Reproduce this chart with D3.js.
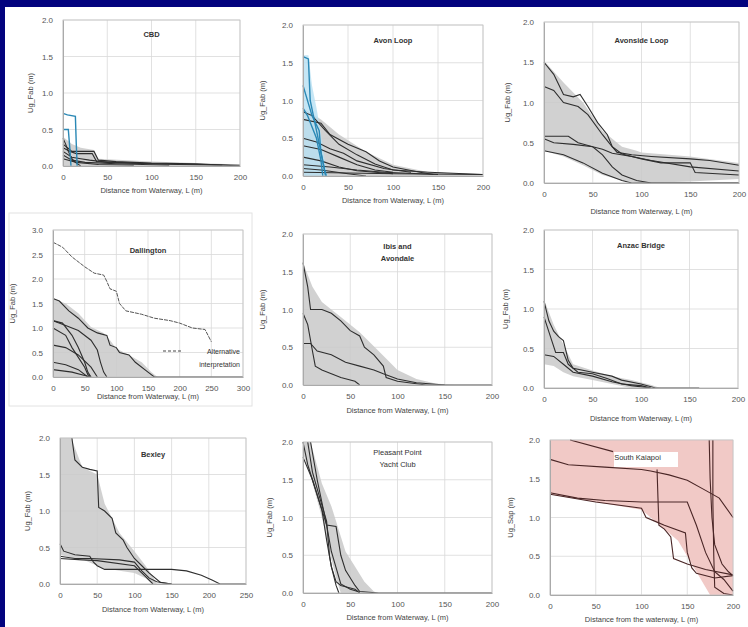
<!DOCTYPE html>
<html>
<head>
<meta charset="utf-8">
<script src="https://d3js.org/d3.v7.min.js"></script>
<style>
body { margin: 0; background: #03037e; }
svg { display: block; font-family: "Liberation Sans", Arial, sans-serif; }
.tick text { fill: #555; font-size: 8px; }
</style>
</head>
<body>
<script>
// ---- data (x = distance m, y = displacement m) ----

// CBD
var cbdBand = [[0,0.4,0],[10,0.3,0],[20,0.25,0],[35,0.22,0],[40,0.1,0],[100,0.06,0],[200,0.02,0]];
var cbdBlue = [
  [[0,0.72],[5,0.7],[14,0.68],[15,0.3],[16,0]],
  [[0,0.5],[6,0.5],[8,0.2],[9,0]]
];
var cbdLines = [
  [[0,0.38],[3,0.3],[6,0.2],[10,0.1],[14,0.05],[20,0]],
  [[0,0.3],[5,0.25],[10,0.2],[35,0.2],[40,0.08],[60,0.06],[100,0.04],[150,0.03],[200,0]],
  [[0,0.25],[8,0.2],[15,0.17],[33,0.17],[38,0.06],[80,0.04],[130,0.02],[180,0.01]],
  [[0,0.2],[10,0.12],[20,0.1],[30,0.08],[50,0.05],[100,0.03],[160,0.02],[200,0.01]],
  [[0,0.15],[10,0.08],[25,0.05],[60,0.03],[120,0.01]],
  [[0,0.1],[15,0.05],[40,0.02],[80,0.01]]
];

// Avon Loop
var avonBlueBand = [[0,1.6,0],[6,1.6,0],[10,1.2,0],[15,0.9,0],[20,0.55,0],[25,0.15,0],[28,0,0]];
var avonBand = [[0,0.9,0],[20,0.75,0],[40,0.55,0],[70,0.32,0],[100,0.15,0],[140,0.05,0],[200,0.02,0]];
var avonBlue = [
  [[0,1.58],[6,1.55],[8,1.0],[15,0.6],[22,0.2],[25,0]],
  [[0,1.2],[10,0.8],[18,0.6],[20,0.3],[24,0.08],[26,0]],
  [[0,0.9],[5,0.8],[15,0.5],[20,0.2],[22,0]]
];
var avonLines = [
  [[0,0.85],[10,0.8],[25,0.6],[40,0.42],[60,0.28],[80,0.16],[100,0.08],[140,0.05],[200,0.02]],
  [[0,0.75],[20,0.7],[30,0.55],[50,0.42],[70,0.32],[85,0.2],[100,0.12],[130,0.05],[145,0.02]],
  [[0,0.5],[15,0.45],[30,0.36],[45,0.3],[60,0.2],[90,0.1],[120,0.05]],
  [[0,0.4],[20,0.35],[40,0.25],[60,0.15],[80,0.08],[100,0.05]],
  [[0,0.25],[20,0.2],[40,0.12],[60,0.07],[100,0.03]],
  [[0,0.15],[30,0.12],[60,0.08],[90,0.05],[150,0.02]],
  [[0,0.1],[20,0.08],[50,0.03],[70,0]],
  [[0,0.05],[100,0.03],[200,0.02]]
];

// Avonside Loop
var avonsideBand = [[0,1.52,0.4],[20,1.25,0.33],[40,1.0,0.22],[60,0.65,0.1],[80,0.45,0.03],[95,0.4,0],[100,0.38,0],[150,0.33,0.02],[200,0.25,0.05]];
var avonsideLines = [
  [[0,1.5],[10,1.35],[20,1.1],[30,1.07],[37,1.1],[45,0.95],[55,0.75],[65,0.6],[70,0.45],[75,0.38],[90,0.35],[110,0.33],[150,0.3],[170,0.28],[200,0.22]],
  [[0,1.2],[10,1.15],[20,1.0],[35,0.95],[45,0.85],[60,0.6],[70,0.45],[80,0.36],[100,0.3],[120,0.25],[150,0.25],[155,0.13],[200,0.1]],
  [[0,0.58],[25,0.58],[35,0.5],[50,0.45],[60,0.42],[70,0.37],[90,0.33],[110,0.28],[150,0.2],[200,0.15]],
  [[0,0.55],[10,0.5],[30,0.48],[50,0.45],[60,0.35],[70,0.2],[80,0.1],[95,0.03],[110,0],[200,0]],
  [[0,0.4],[20,0.35],[40,0.25],[60,0.12],[80,0.03],[90,0],[200,0]]
];

// Dallington
var dallBand = [[0,1.6,0],[20,1.5,0],[40,1.3,0],[60,1.02,0],[80,0.9,0],[90,0.75,0],[100,0.58,0],[120,0.45,0],[140,0.3,0],[155,0.1,0],[165,0,0]];
var dallAlt = [[0,2.75],[15,2.65],[30,2.45],[50,2.25],[65,2.12],[80,2.08],[85,1.95],[90,1.8],[100,1.75],[105,1.5],[115,1.35],[140,1.28],[160,1.2],[185,1.15],[200,1.1],[220,1.0],[240,0.97],[250,0.72]];
var dallLines = [
  [[0,1.6],[10,1.55],[25,1.35],[40,1.2],[55,1.0],[70,0.9],[85,0.85],[90,0.65],[100,0.6],[105,0.5],[120,0.45],[130,0.3],[150,0.1],[160,0],[300,0]],
  [[0,1.15],[15,1.1],[30,0.85],[40,0.6],[50,0.3],[55,0.1],[60,0]],
  [[0,1.15],[20,1.05],[40,0.95],[60,0.75],[70,0.55],[75,0.3],[80,0.1],[85,0]],
  [[0,1.0],[20,0.85],[30,0.6],[40,0.4],[50,0.2],[55,0.05],[60,0]],
  [[0,0.65],[20,0.6],[40,0.45],[60,0.2],[70,0]],
  [[0,0.3],[20,0.25],[40,0.15],[55,0]],
  [[0,0.15],[30,0.1],[50,0.03],[60,0]]
];

// Ibis and Avondale
var ibisBand = [[0,1.62,0],[10,1.3,0],[20,1.1,0],[40,0.9,0],[60,0.7,0],[80,0.45,0],[100,0.2,0],[120,0.08,0],[140,0.02,0],[160,0,0]];
var ibisLines = [
  [[0,1.62],[5,1.3],[8,1.0],[20,1.0],[30,0.95],[40,0.85],[50,0.72],[60,0.65],[65,0.5],[75,0.4],[85,0.25],[88,0.1],[100,0.05],[130,0],[200,0]],
  [[0,0.95],[5,0.8],[10,0.45],[13,0.25],[20,0.2],[30,0.15],[40,0.1],[55,0.05],[60,0]],
  [[0,0.55],[8,0.55],[15,0.45],[30,0.4],[45,0.3],[60,0.25],[75,0.2],[85,0.15],[100,0.08],[120,0.03],[150,0]]
];

// Anzac Bridge
var anzacBand = [[0,1.12,0.3],[10,0.8,0.28],[20,0.55,0.2],[30,0.3,0.15],[50,0.22,0.1],[70,0.15,0.05],[90,0.1,0],[110,0.04,0],[120,0,0]];
var anzacLines = [
  [[0,1.1],[5,0.85],[10,0.72],[15,0.65],[20,0.6],[25,0.35],[30,0.25],[50,0.2],[70,0.15],[80,0.1],[100,0.05],[115,0],[160,0]],
  [[0,0.9],[8,0.6],[12,0.45],[20,0.45],[25,0.3],[35,0.2],[50,0.18],[65,0.12],[80,0.05],[100,0.03],[110,0]],
  [[0,0.42],[10,0.4],[20,0.3],[30,0.2],[50,0.15],[70,0.08],[90,0.03],[110,0]]
];

// Bexley
var bexBand = [[0,2.0,0.4],[15,2.0,0.36],[30,1.6,0.34],[50,1.5,0.25],[60,1.1,0.2],[70,0.9,0.2],[80,0.7,0.18],[100,0.45,0.15],[115,0.25,0.08],[125,0.1,0],[130,0,0]];
var bexLines = [
  [[16,2.0],[20,1.7],[30,1.6],[40,1.57],[50,1.55],[52,1.05],[60,1.0],[70,0.9],[75,0.7],[85,0.6],[90,0.5],[100,0.35],[110,0.25],[120,0.15],[135,0.02],[150,0]],
  [[0,0.55],[5,0.45],[20,0.4],[40,0.38],[45,0.3],[50,0.25],[60,0.2],[110,0.2],[130,0.2],[150,0.2],[170,0.18],[190,0.12],[205,0.05],[215,0],[250,0]],
  [[0,0.38],[20,0.35],[40,0.35],[80,0.33],[100,0.3],[110,0.18],[120,0.08],[130,0.03],[150,0]],
  [[0,0.35],[30,0.33],[50,0.32],[100,0.25],[115,0.1],[125,0]]
];

// Pleasant Point Yacht Club
var ppBand = [[0,2.0,1.85],[8,2.0,1.55],[20,1.45,1.0],[30,1.15,0.45],[35,0.95,0.2],[40,0.75,0],[45,0.55,0],[55,0.35,0],[65,0.15,0],[75,0.02,0],[80,0,0]];
var ppLines = [
  [[0,2.0],[5,1.7],[10,1.5],[15,1.3],[20,1.1],[25,0.9],[35,0.88],[40,0.5],[45,0.3],[55,0.1],[60,0.02],[80,0],[200,0]],
  [[5,2.0],[10,1.6],[18,1.25],[25,0.95],[28,0.5],[30,0.35],[35,0.15],[40,0.1],[55,0.05],[60,0]],
  [[0,1.8],[10,1.5],[20,1.1],[25,0.7],[30,0.35],[35,0.1],[38,0]],
  [[8,2.0],[15,1.5],[25,0.9],[30,0.55],[40,0.12],[50,0.05],[58,0.02]]
];

// South Kaiapoi
var skBand = [[0,2.0,1.3],[50,2.0,1.2],[100,2.0,1.1],[120,2.0,0.9],[140,2.0,0.7],[150,2.0,0.5],[160,2.0,0.3],[170,2.0,0.1],[175,2.0,0],[200,2.0,0]];
var skLines = [
  [[22,2.0],[69,1.85]],
  [[0,1.75],[20,1.68],[60,1.65],[100,1.62],[110,1.6],[130,1.55],[150,1.48],[170,1.35],[185,1.25],[200,1.0]],
  [[0,1.32],[30,1.25],[60,1.22],[100,1.2],[150,1.2],[160,0.9],[170,0.55],[180,0.3],[190,0.2],[200,0.05]],
  [[0,1.3],[50,1.2],[100,1.12],[105,1.0],[115,0.95],[125,0.9],[148,0.8],[150,0.55],[155,0.35],[160,0.28],[180,0.22],[200,0.25]],
  [[117,1.62],[118,1.25],[119,0.9],[125,0.85],[132,0.75],[135,0.47],[150,0.4],[170,0.33],[200,0.26]],
  [[174,2.0],[175,1.5],[177,1.0],[180,0.65],[188,0.4],[195,0.3],[200,0.25]],
  [[178,2.0],[178,1.2],[179,0.5],[180,0.1],[190,0.02],[200,0]]
];

var titles = ["CBD", "Avon Loop", "Avonside Loop", "Dallington", "Ibis and\nAvondale", "Anzac Bridge", "Bexley", "Pleasant Point\nYacht Club", "South Kaiapoi"];
var xMax = [200, 200, 200, 300, 200, 200, 250, 200, 200];
var yMax = [2, 2, 2, 3, 2, 2, 2, 2, 2];
var yLabels = ["Ug_Fab (m)", "Ug_Fab (m)", "Ug_Fab (m)", "Ug_Fab (m)", "Ug_Fab (m)", "Ug_Fab (m)", "Ug_Fab (m)", "Ug_Fab (m)", "Ug_Sap (m)"];
var xLabels = ["Distance from Waterway, L (m)", "Distance from Waterway, L (m)", "Distance from Waterway, L (m)",
  "Distance from Waterway, L (m)", "Distance from Waterway, L (m)", "Distance from Waterway, L (m)",
  "Distance from Waterway, L (m)", "Distance from Waterway, L (m)", "Distance from the waterway, L (m)"];
var bands = [cbdBand, avonBand, avonsideBand, dallBand, ibisBand, anzacBand, bexBand, ppBand, skBand];
var lines = [cbdLines, avonLines, avonsideLines, dallLines, ibisLines, anzacLines, bexLines, ppLines, skLines];

// layout: plot box, y-title x, x-title y, title y
var boxes = [
  {l:63, t:20, r:240, b:166, yt:33, xt:193, ty:37},
  {l:303, t:25, r:483, b:176, yt:265, xt:203, ty:43},
  {l:544, t:22, r:739, b:183, yt:510, xt:214, ty:43},
  {l:53, t:230, r:243, b:377, yt:15, xt:399, ty:253},
  {l:303, t:234, r:492, b:385, yt:265, xt:413, ty:249},
  {l:544, t:230, r:738, b:388, yt:508, xt:421, ty:248},
  {l:60, t:438, r:246, b:584, yt:30, xt:612, ty:457},
  {l:303, t:442, r:492, b:593, yt:272, xt:620, ty:455},
  {l:550, t:440, r:733, b:595, yt:513, xt:622, ty:460}
];

var W = 748, H = 627;
var svg = d3.select("body").append("svg").attr("width", W).attr("height", H);
svg.append("rect").attr("x", 0).attr("y", 0).attr("width", W).attr("height", H).attr("fill", "#03037e");
svg.append("rect").attr("x", 5).attr("y", 7).attr("width", W - 5).attr("height", H - 7).attr("fill", "#ffffff");

// faint frame around the Dallington figure
svg.append("rect").attr("x", 9).attr("y", 213).attr("width", 243).attr("height", 193)
  .attr("fill", "none").attr("stroke", "#e2e2e2");

boxes.forEach(function(bx, i) {
  var g = svg.append("g");
  var x = d3.scaleLinear().domain([0, xMax[i]]).range([bx.l, bx.r]);
  var y = d3.scaleLinear().domain([0, yMax[i]]).range([bx.b, bx.t]);
  var xt = d3.range(0, xMax[i] + 1, 50);
  var yt = d3.range(0, yMax[i] + 0.01, 0.5);

  // grid
  g.append("g").selectAll("line").data(xt).enter().append("line")
    .attr("x1", function(d) { return x(d); }).attr("x2", function(d) { return x(d); })
    .attr("y1", bx.t).attr("y2", bx.b).attr("stroke", "#d9d9d9").attr("stroke-width", 0.8);
  g.append("g").selectAll("line").data(yt).enter().append("line")
    .attr("y1", function(d) { return y(d); }).attr("y2", function(d) { return y(d); })
    .attr("x1", bx.l).attr("x2", bx.r).attr("stroke", "#d9d9d9").attr("stroke-width", 0.8);

  var area = d3.area().x(function(d) { return x(d[0]); })
    .y0(function(d) { return y(d[2]); }).y1(function(d) { return y(d[1]); });
  var line = d3.line().x(function(d) { return x(d[0]); }).y(function(d) { return y(d[1]); });

  var pink = i === 8;
  g.append("path").datum(bands[i]).attr("d", area)
    .attr("fill", pink ? "#f1c9c6" : "#c9c9c9").attr("opacity", pink ? 1 : 0.85);

  if (i === 1) {
    g.append("path").datum(avonBlueBand).attr("d", area).attr("fill", "#b6e0f2").attr("opacity", 0.8);
  }

  g.append("g").selectAll("path").data(lines[i]).enter().append("path")
    .attr("d", line).attr("fill", "none")
    .attr("stroke", pink ? "#4a2626" : "#2e2e2e").attr("stroke-width", 1.1);

  if (i === 0) {
    g.append("g").selectAll("path").data(cbdBlue).enter().append("path")
      .attr("d", line).attr("fill", "none").attr("stroke", "#2a88b5").attr("stroke-width", 1.4);
  }
  if (i === 1) {
    g.append("g").selectAll("path").data(avonBlue).enter().append("path")
      .attr("d", line).attr("fill", "none").attr("stroke", "#2a88b5").attr("stroke-width", 1.4);
  }
  if (i === 3) {
    g.append("path").datum(dallAlt).attr("d", line).attr("fill", "none")
      .attr("stroke", "#555").attr("stroke-width", 1).attr("stroke-dasharray", "4,1");
    var lg = g.append("g");
    lg.append("line").attr("x1", 163).attr("x2", 181).attr("y1", 351).attr("y2", 351)
      .attr("stroke", "#444").attr("stroke-dasharray", "3,2");
    lg.append("text").attr("x", 240).attr("y", 354).attr("text-anchor", "end")
      .attr("font-size", 7).attr("fill", "#333").text("Alternative");
    lg.append("text").attr("x", 240).attr("y", 367).attr("text-anchor", "end")
      .attr("font-size", 7).attr("fill", "#333").text("interpretation");
  }

  // frame
  g.append("rect").attr("x", bx.l).attr("y", bx.t).attr("width", bx.r - bx.l).attr("height", bx.b - bx.t)
    .attr("fill", "none").attr("stroke", "#c4c4c4").attr("stroke-width", 0.8);

  // axes
  var ax = g.append("g").attr("transform", "translate(0," + bx.b + ")")
    .call(d3.axisBottom(x).tickValues(xt).tickSize(0).tickPadding(8).tickFormat(d3.format("d")));
  ax.select(".domain").attr("stroke", "#aaa");
  var ay = g.append("g").attr("transform", "translate(" + bx.l + ",0)")
    .call(d3.axisLeft(y).tickValues(yt).tickSize(0).tickPadding(10).tickFormat(d3.format(".1f")));
  ay.select(".domain").attr("stroke", "#aaa");

  // titles
  var tl = titles[i].split("\n");
  var tx = (bx.l + bx.r) / 2 + (pink ? -4 : 0);
  if (pink) {
    g.append("rect").attr("x", 614).attr("y", 452).attr("width", 64).attr("height", 15).attr("fill", "#fff");
  }
  var tt = g.append("text").attr("x", tx).attr("y", bx.ty)
    .attr("text-anchor", "middle").attr("font-size", 7.5).attr("font-weight", pink || i === 7 ? "normal" : "bold")
    .attr("fill", "#333");
  tl.forEach(function(s, k) {
    tt.append("tspan").attr("x", tx).attr("dy", k === 0 ? 0 : 12).text(s);
  });

  g.append("text").attr("transform", "translate(" + bx.yt + "," + ((bx.t + bx.b) / 2) + ") rotate(-90)")
    .attr("text-anchor", "middle").attr("font-size", 7.5).attr("fill", "#444").text(yLabels[i]);
  g.append("text").attr("x", (bx.l + bx.r) / 2).attr("y", bx.xt)
    .attr("text-anchor", "middle").attr("font-size", 7.5).attr("fill", "#444").text(xLabels[i]);
});
</script>
</body>
</html>
